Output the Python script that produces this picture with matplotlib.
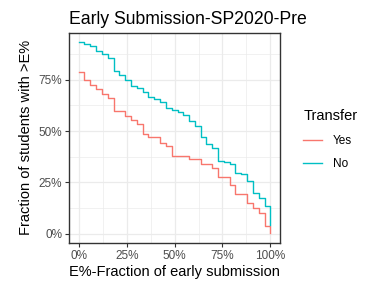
import matplotlib
matplotlib.use("Agg")
import matplotlib.pyplot as plt
from matplotlib.lines import Line2D
from matplotlib.ticker import FixedLocator

# fraction of early submission (%) at each step
x_pct = [0, 2.45, 5.6, 8.7, 11.9, 15.0, 18.2, 21.0, 24.1, 27.3, 30.4, 33.4, 36.2,
         39.3, 42.5, 45.6, 48.6, 51.7, 54.5, 57.5, 60.7, 64.0, 66.6, 69.6, 72.7,
         75.9, 79.0, 81.6, 84.6, 87.8, 91.1, 94.2, 97.4, 100]

# fraction of students with > E% (%)
yes_pct = [78.6, 74.7, 72.2, 70.3, 67.8, 65.9, 59.7, 59.7, 57.4, 55.3, 53.2, 48.8, 46.9,
           46.9, 44.4, 42.5, 38.1, 38.1, 38.1, 36.3, 36.3, 34.2, 34.2, 31.9, 27.5,
           27.5, 23.6, 19.2, 19.2, 14.8, 12.7, 10.2, 3.9, 0.3]
no_pct = [93.2, 92.4, 91.6, 89.0, 87.5, 85.4, 79.1, 77.1, 74.7, 71.7, 70.8, 68.8, 66.4,
          65.4, 63.9, 61.0, 60.0, 59.1, 57.6, 54.7, 52.7, 47.3, 43.9, 42.0, 35.6,
          35.1, 34.2, 29.8, 29.3, 25.9, 20.0, 17.6, 13.7, 4.1]

tick_vals = [0, 25, 50, 75, 100]
tick_labels = ["0%", "25%", "50%", "75%", "100%"]

c_yes = "#F8766D"
c_no = "#00BFC4"

plt.rcParams['font.family'] = ['Liberation Sans', 'DejaVu Sans']

fig = plt.figure(figsize=(3.84, 2.88), dpi=100)
ax = fig.add_axes([0.1805, 0.157, 0.5485, 0.7295])

ax.step(x_pct, yes_pct, where='post', color=c_yes, lw=1.0, zorder=3)
ax.step(x_pct, no_pct, where='post', color=c_no, lw=1.0, zorder=3)

ax.set_xlim(-5, 105)
lo, hi = 0.3, 93.2
pad = (hi - lo) * 0.05
ax.set_ylim(lo - pad, hi + pad)

ax.set_xticks(tick_vals)
ax.set_xticklabels(tick_labels)
ax.set_yticks(tick_vals[:4])
ax.set_yticklabels(tick_labels[:4])
ax.xaxis.set_minor_locator(FixedLocator([12.5, 37.5, 62.5, 87.5]))
ax.yaxis.set_minor_locator(FixedLocator([12.5, 37.5, 62.5, 87.5]))

ax.grid(True, which='major', color='#EBEBEB', lw=0.9, zorder=0)
ax.grid(True, which='minor', color='#EBEBEB', lw=0.5, zorder=0)
ax.set_axisbelow(True)
ax.tick_params(which='major', length=3, width=0.8, color='#333333',
               labelsize=8.45, labelcolor='#4D4D4D', pad=2)
ax.tick_params(which='minor', length=0)
for s in ax.spines.values():
    s.set_color('#333333')
    s.set_linewidth(1.0)

ax.set_xlabel("E%-Fraction of early submission", fontsize=10.56, labelpad=2)
ax.set_ylabel("Fraction of students with >E%", fontsize=10.56, labelpad=4)
ax.set_title("Early Submission-SP2020-Pre", fontsize=12.67, loc='left', x=0.0, pad=6)

handles = [Line2D([], [], color=c_yes, lw=1.0), Line2D([], [], color=c_no, lw=1.0)]
leg = fig.legend(handles, ["Yes", "No"], title="Transfer", loc='center left',
                 bbox_to_anchor=(0.762, 0.515), frameon=False, fontsize=8.45,
                 title_fontsize=10.56, handlelength=1.6, handletextpad=0.9,
                 labelspacing=1.0)
leg._legend_box.align = "left"

fig.savefig("out.png", dpi=100)
